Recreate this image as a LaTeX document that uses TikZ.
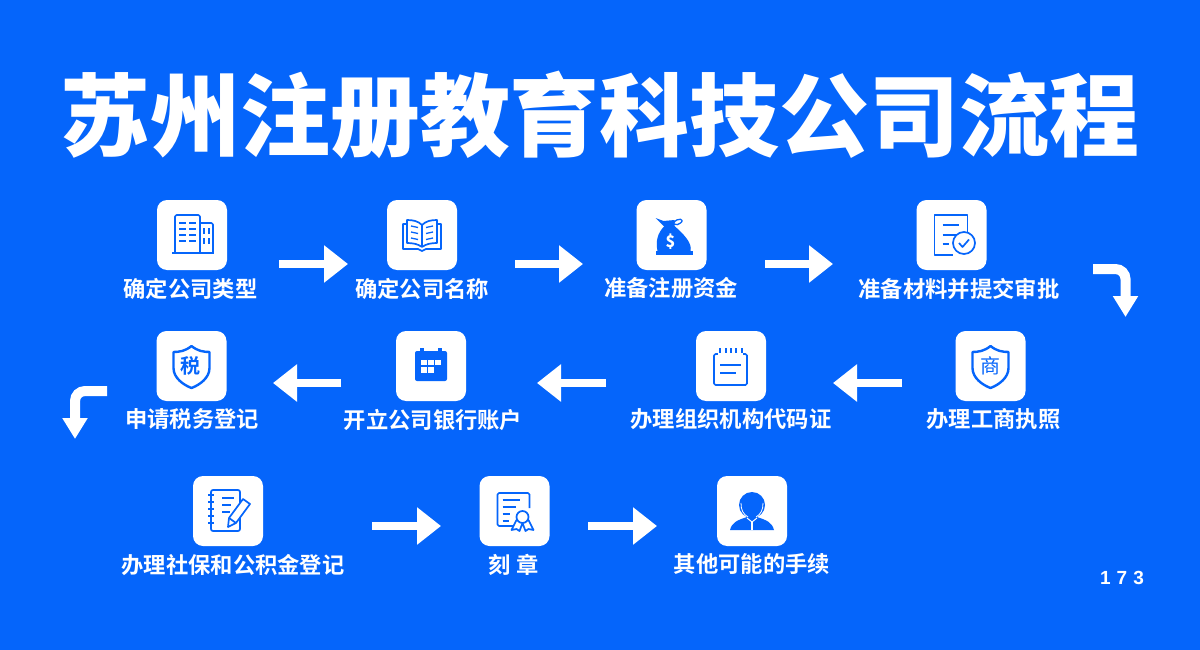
\documentclass[tikz,border=0pt]{standalone}
\usepackage{fontspec}
\setmainfont{Noto Sans CJK SC}[BoldFont={Noto Sans CJK SC Bold}]
\newfontfamily\titlefont{Noto Sans CJK SC Black}
\newfontfamily\numfont[LetterSpace=32]{Liberation Sans}
\usetikzlibrary{arrows.meta}
\definecolor{bgblue}{HTML}{0565FB}
\tikzstyle{tile} = [fill=white,rounded corners=10pt,minimum size=70pt,inner sep=0pt,outer sep=0pt]
\tikzstyle{steplabel} = [text=white,inner sep=0pt,font=\fontsize{22.3}{24}\selectfont\bfseries]
\tikzstyle{flow} = [draw=white,line width=8pt,-{Triangle[length=24pt,width=36pt]}]
\tikzstyle{turnflow} = [draw=white,line width=10pt,rounded corners=10pt,-{Triangle[length=21pt,width=24pt]}]
\tikzstyle{iconline} = [draw=bgblue,line width=1.7pt,line join=round]
\tikzstyle{iconfill} = [fill=bgblue]

\begin{document}
\begin{tikzpicture}[x=1pt,y=-1pt]
        \useasboundingbox (0,0) rectangle (1200,650);
        \fill[bgblue] (0,0) rectangle (1200,650);
        \node[text=white,inner sep=0pt,font=\fontsize{90}{94}\selectfont\titlefont] (title) at (600,115) {苏州注册教育科技公司流程};

        % first row
        \node[tile] (type) at (192,235) {};
        \node[tile] (name) at (422,235) {};
        \node[tile] (fund) at (671.5,235) {};
        \node[tile] (docs) at (951.5,235) {};
        \node[steplabel] (typelabel) at (190.5,288.5) {确定公司类型};
        \node[steplabel] (namelabel) at (422,288.5) {确定公司名称};
        \node[steplabel] (fundlabel) at (671,288.5) {准备注册资金};
        \node[steplabel] (docslabel) at (959,288.5) {准备材料并提交审批};

        % second row
        \node[tile] (tax) at (191.5,366) {};
        \node[tile] (bank) at (431,366) {};
        \node[tile] (code) at (731,366) {};
        \node[tile] (lic) at (990.5,366) {};
        \node[steplabel] (taxlabel) at (192,419.5) {申请税务登记};
        \node[steplabel] (banklabel) at (433,419.5) {开立公司银行账户};
        \node[steplabel] (codelabel) at (731,419.5) {办理组织机构代码证};
        \node[steplabel] (liclabel) at (993.5,419.5) {办理工商执照};

        % third row
        \node[tile] (fundins) at (228,511) {};
        \node[tile] (seal) at (514.5,511) {};
        \node[tile] (other) at (752,511) {};
        \node[steplabel] (fundinslabel) at (233,564.5) {办理社保和公积金登记};
        \node[steplabel] (seallabel) at (513.5,564.5) {刻 章};
        \node[steplabel] (otherlabel) at (752,564.5) {其他可能的手续};

        \node[text=white,inner sep=0pt,font=\fontsize{19}{20}\selectfont\numfont\bfseries] (page) at (1122,578) {173};

        % arrows
        \coordinate (a1) at (279,264); \coordinate (b1) at (348,264);
        \coordinate (a2) at (515,264); \coordinate (b2) at (583,264);
        \coordinate (a3) at (765,264); \coordinate (b3) at (833,264);
        \coordinate (a4) at (1093,269); \coordinate (c4) at (1125.5,269); \coordinate (b4) at (1125.5,317);
        \coordinate (a5) at (902,383); \coordinate (b5) at (833,383);
        \coordinate (a6) at (606,383); \coordinate (b6) at (537,383);
        \coordinate (a7) at (341,383); \coordinate (b7) at (273,383);
        \coordinate (a8) at (107,391); \coordinate (c8) at (75,391); \coordinate (b8) at (75,439);
        \coordinate (a9) at (372,526); \coordinate (b9) at (441,526);
        \coordinate (a10) at (588,526); \coordinate (b10) at (657,526);
        \draw[flow] (a1) -- (b1);
        \draw[flow] (a2) -- (b2);
        \draw[flow] (a3) -- (b3);
        \draw[turnflow] (a4) -- (c4) -- (b4);
        \draw[flow] (a5) -- (b5);
        \draw[flow] (a6) -- (b6);
        \draw[flow] (a7) -- (b7);
        \draw[turnflow] (a8) -- (c8) -- (b8);
        \draw[flow] (a9) -- (b9);
        \draw[flow] (a10) -- (b10);

        % building
        \begin{scope}[shift={(type.center)}]
            \draw[iconline,rounded corners=1.5pt] (-17,18) -- (-17,-20) -- (8,-20) -- (8,18);
            \draw[iconline,rounded corners=1.5pt] (8,-12) -- (21,-12) -- (21,18);
            \draw[iconline] (-20,18) -- (22,18);
            \foreach \y in {-12,-6,0,6} {
                \draw[iconline,line width=2pt] (-13,\y) -- (-6,\y);
                \draw[iconline,line width=2pt] (-3,\y) -- (4,\y);
            }
            \foreach \y in {-7,3} {
                \draw[iconline,line width=2pt] (12,\y) -- (12,\y+6);
                \draw[iconline,line width=2pt] (17,\y) -- (17,\y+6);
            }
        \end{scope}

        % book
        \begin{scope}[shift={(name.center)}]
            \draw[iconline] (0,-10) .. controls (-4,-14) and (-9,-15) .. (-15,-15) -- (-15,8) .. controls (-9,8) and (-4,9) .. (0,12);
            \draw[iconline] (0,-10) .. controls (4,-14) and (9,-15) .. (15,-15) -- (15,8) .. controls (9,8) and (4,9) .. (0,12);
            \draw[iconline] (0,-10) -- (0,12);
            \draw[iconline] (-15,-11) -- (-19,-11) -- (-19,14) -- (-4,14) -- (0,16) -- (4,14) -- (19,14) -- (19,-11) -- (15,-11);
            \foreach \y in {-9,-3,3} {
                \draw[iconline,line width=1.3pt] (-11,\y) -- (-4,\y+1.5);
                \draw[iconline,line width=1.3pt] (11,\y) -- (4,\y+1.5);
            }
        \end{scope}

        % money bag
        \begin{scope}[shift={(fund.center)}]
            \fill[iconfill] (-7,-9) .. controls (-14,-2) and (-16,6) .. (-14,16) -- (19,16) .. controls (21,8) and (12,-1) .. (3,-9) -- cycle;
            \fill[iconfill] (-16,-17) -- (-8,-14) -- (3,-15) -- (3,-9) -- (-7,-8) -- cycle;
            \draw[iconline,line width=1.3pt] (2,-12) .. controls (6,-18) and (14,-16) .. (9,-12) .. controls (7,-10) and (5,-10) .. (2,-11);
            \fill[iconfill] (-16,16) rectangle (21,20);
            \node[text=white,inner sep=0pt,font=\fontsize{16}{16}\selectfont\titlefont] (dollar) at (-1,7) {\$};
        \end{scope}

        % document with check
        \begin{scope}[shift={(docs.center)}]
            \draw[iconline] (1,20) -- (-17,20) -- (-17,-20) -- (16,-20) -- (16,-3);
            \draw[iconline] (-9,-10) -- (7,-10);
            \draw[iconline] (-9,0) -- (5,0);
            \draw[iconline] (-9,9) -- (-3,9);
            \draw[iconline,fill=white] (12.5,8) circle (11);
            \draw[iconline] (7.5,8) -- (11,12) -- (17.5,4.5);
        \end{scope}

        % shield with tax
        \begin{scope}[shift={(tax.center)}]
            \draw[iconline,line width=2.4pt] (0,-20) .. controls (-6,-15) and (-12,-14) .. (-18,-14) -- (-18,2) .. controls (-18,12) and (-8,19) .. (0,22) .. controls (8,19) and (18,12) .. (18,2) -- (18,-14) .. controls (12,-14) and (6,-15) .. (0,-20) -- cycle;
            \node[text=bgblue,inner sep=0pt,font=\fontsize{20}{22}\selectfont\bfseries] (taxchar) at (-1,0) {税};
        \end{scope}

        % calendar
        \begin{scope}[shift={(bank.center)}]
            \fill[iconfill,rounded corners=2pt] (-16,-15) rectangle (16,15);
            \fill[iconfill] (-11,-18) rectangle (-7,-14);
            \fill[iconfill] (7,-18) rectangle (11,-14);
            \fill[white] (-10,-6) rectangle (-4,-1);
            \fill[white] (-3,-6) rectangle (3,-1);
            \fill[white] (4,-6) rectangle (10,-1);
            \fill[white] (-10,1) rectangle (-4,7);
            \fill[white] (-3,1) rectangle (3,7);
        \end{scope}

        % dated form
        \begin{scope}[shift={(code.center)}]
            \draw[iconline,rounded corners=1.5pt] (-17,-12) rectangle (16,19);
            \fill[white] (-13,-14) rectangle (12,-10);
            \foreach \x in {-11,-5,0,5,11} {
                \draw[iconline,line width=1.4pt] (\x,-18) -- (\x,-13);
            }
            \draw[iconline] (-11,-1) -- (10,-1);
            \draw[iconline] (-11,7) -- (5,7);
        \end{scope}

        % shield with commerce
        \begin{scope}[shift={(lic.center)}]
            \draw[iconline,line width=2.4pt] (0,-20) .. controls (-6,-15) and (-12,-14) .. (-18,-14) -- (-18,2) .. controls (-18,12) and (-8,19) .. (0,22) .. controls (8,19) and (18,12) .. (18,2) -- (18,-14) .. controls (12,-14) and (6,-15) .. (0,-20) -- cycle;
            \node[text=bgblue,inner sep=0pt,font=\fontsize{20}{22}\selectfont] (licchar) at (0,0) {商};
        \end{scope}

        % notebook with pencil
        \begin{scope}[shift={(fundins.center)}]
            \draw[iconline,rounded corners=2pt] (-17,-21) rectangle (12,20);
            \foreach \y in {-16,-9,-2,5,12} {
                \draw[iconline] (-20,\y) -- (-14,\y);
            }
            \draw[iconline] (-6,-13) -- (6,-13);
            \draw[iconline] (-6,-6) -- (3,-6);
            \draw[iconline] (-6,1) -- (2,1);
            \draw[iconline,fill=white] (0,16) -- (1,7) -- (15,-12) -- (22,-7) -- (8,12) -- cycle;
            \draw[iconline] (1,7) -- (8,12);
        \end{scope}

        % certificate
        \begin{scope}[shift={(seal.center)}]
            \draw[iconline,rounded corners=1.5pt] (2,15) -- (-17,15) -- (-17,-18) -- (15,-18) -- (15,-3);
            \draw[iconline] (-12,-11) -- (5,-11);
            \draw[iconline] (-12,-4) -- (1,-4);
            \draw[iconline] (-12,3) -- (-5,3);
            \draw[iconline] (-12,10) -- (-6,10);
            \draw[iconline,fill=white] (2,9) -- (-3,19) -- (2,18) -- (5,20) -- (8,12) -- (11,20) -- (14,18) -- (19,19) -- (14,9);
            \draw[iconline,fill=white] (8,6) circle (6);
        \end{scope}

        % person with headset
        \begin{scope}[shift={(other.center)}]
            \fill[iconfill] (0,-6) ellipse (13 and 13);
            \fill[iconfill] (-22,19) .. controls (-20,11) and (-14,9) .. (-5,6) -- (5,6) .. controls (14,9) and (20,11) .. (22,19) -- cycle;
            \draw[white,line width=1pt] (-5,7) -- (0,11) -- (5,7);
            \draw[white,line width=1.4pt] (0,11) -- (0,19);
            \draw[white,line width=0.8pt] (-11,-8) .. controls (-11,-1) and (-9,3) .. (-4,6);
            \draw[white,line width=0.8pt] (11,-8) .. controls (11,-1) and (9,3) .. (4,6);
        \end{scope}
    \end{tikzpicture}
\end{document}
